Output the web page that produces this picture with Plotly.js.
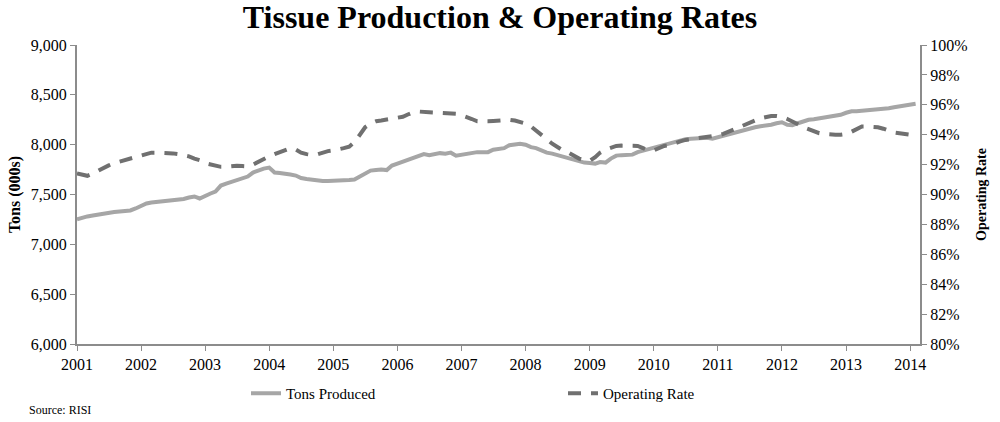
<!DOCTYPE html>
<html>
<head>
<meta charset="utf-8">
<script src="https://cdn.plot.ly/plotly-3.0.1.min.js"></script>
<style>html,body{margin:0;padding:0;background:#fff;}#chart{width:1000px;height:422px;}</style>
</head>
<body>
<div id="chart"></div>
<script>
// Monthly, Jan 2001 - Feb 2014
var years = [2001,2002,2003,2004,2005,2006,2007,2008,2009,2010,2011,2012,2013,2014];

var tonsProduced = [
  7250,7270,7280,7290,7300,7310,7320,7325,7330,7335,7340,7360,
  7390,7410,7420,7425,7430,7435,7440,7445,7455,7470,7480,7460,
  7490,7510,7530,7590,7610,7625,7640,7660,7680,7720,7745,7760,
  7770,7720,7715,7710,7700,7690,7665,7655,7645,7635,7635,7635,
  7635,7638,7640,7645,7650,7680,7720,7740,7745,7750,7745,7790,
  7810,7830,7850,7870,7890,7905,7895,7905,7915,7910,7920,7890,
  7900,7915,7920,7925,7925,7925,7950,7955,7965,7995,8005,8010,
  8000,7975,7965,7940,7920,7910,7895,7885,7870,7850,7830,7820,
  7815,7810,7825,7820,7860,7890,7895,7895,7900,7925,7940,7955,
  7965,7980,7995,8010,8025,8040,8055,8060,8065,8075,8070,8060,
  8075,8095,8110,8120,8130,8145,8160,8175,8185,8190,8200,8215,
  8225,8200,8195,8215,8235,8250,8255,8265,8275,8285,8290,8300,
  8320,8335,8335,8340,8345,8350,8350,8360,8365,8375,8385,8395,
  8405,8410
];

var operatingRate = [
  91.4,91.3,91.25,91.4,91.6,91.8,91.95,92.1,92.2,92.25,92.4,92.5,
  92.55,92.7,92.8,92.8,92.8,92.78,92.75,92.7,92.65,92.55,92.4,92.3,
  92.1,92.0,91.9,91.85,91.85,91.9,91.92,91.9,91.88,92.0,92.2,92.4,
  92.55,92.7,92.85,93.0,93.1,93.0,92.8,92.7,92.65,92.68,92.8,92.9,
  92.95,93.0,93.1,93.2,93.5,94.0,94.5,94.75,94.9,94.95,95.0,95.05,
  95.1,95.2,95.35,95.5,95.55,95.55,95.5,95.48,95.47,95.47,95.45,95.4,
  95.3,95.2,95.05,94.9,94.88,94.9,94.92,94.95,95.0,95.0,94.95,94.85,
  94.75,94.55,94.3,94.0,93.7,93.4,93.15,92.95,92.8,92.6,92.4,92.3,
  92.25,92.5,92.8,93.0,93.15,93.25,93.27,93.27,93.27,93.25,93.1,92.95,
  92.95,93.1,93.25,93.3,93.45,93.55,93.65,93.7,93.75,93.78,93.8,93.85,
  93.95,94.05,94.2,94.35,94.5,94.65,94.8,94.95,95.1,95.2,95.25,95.25,
  95.2,95.05,94.9,94.7,94.5,94.35,94.2,94.1,94.05,94.0,94.0,94.0,
  94.05,94.2,94.4,94.55,94.55,94.52,94.5,94.4,94.25,94.15,94.1,94.05,
  94.0,93.95
];

var leftTickVals = [6000,6500,7000,7500,8000,8500,9000];
var leftTickLabels = ['6,000','6,500','7,000','7,500','8,000','8,500','9,000'];
var rightTickVals = [80,82,84,86,88,90,92,94,96,98,100];
var rightTickLabels = ['80%','82%','84%','86%','88%','90%','92%','94%','96%','98%','100%'];

// month dates built from the years list
var dates = [];
for (var i = 0; i < tonsProduced.length; i++) {
  var y = years[0] + Math.floor(i / 12);
  var m = (i % 12) + 1;
  dates.push(y + '-' + (m < 10 ? '0' + m : m) + '-01');
}
var yearTicks = years.map(function (y) { return y + '-01-01'; });
var yearLabels = years.map(String);

var font = 'Liberation Serif, Times New Roman, serif';
var axisColor = '#8c8c8c';

var traces = [
  {
    x: dates, y: tonsProduced, name: 'Tons Produced', type: 'scatter', mode: 'lines',
    line: {color: '#a6a6a6', width: 4, shape: 'linear'}, yaxis: 'y', legend: 'legend'
  },
  {
    x: dates, y: operatingRate, name: 'Operating Rate', type: 'scatter', mode: 'lines',
    line: {color: '#707070', width: 4, dash: '13px,10px'}, yaxis: 'y2', legend: 'legend2'
  }
];

var layout = {
  width: 1000, height: 422,
  margin: {l: 77, r: 80, t: 45, b: 75},
  paper_bgcolor: '#fff', plot_bgcolor: '#fff',
  font: {family: font, size: 16, color: '#000'},
  title: {
    text: '<b>Tissue Production &amp; Operating Rates</b>',
    font: {family: font, size: 32, color: '#000'},
    x: 0.5, xanchor: 'center', y: 1 - 17 / 422, yanchor: 'middle', xref: 'container', yref: 'container'
  },
  xaxis: {
    type: 'date',
    range: ['2001-01-01', '2014-02-26'],
    tickmode: 'array', tickvals: yearTicks, ticktext: yearLabels,
    showgrid: false, zeroline: false,
    showline: true, linecolor: axisColor, linewidth: 2,
    ticks: 'outside', ticklen: 5, tickcolor: axisColor, tickwidth: 1,
    tickfont: {family: font, size: 16, color: '#000'}
  },
  yaxis: {
    range: [6000, 9000],
    tickmode: 'array', tickvals: leftTickVals, ticktext: leftTickLabels,
    showgrid: false, zeroline: false,
    showline: true, linecolor: axisColor, linewidth: 2,
    ticks: 'outside', ticklen: 5, tickcolor: axisColor, tickwidth: 1,
    tickfont: {family: font, size: 16, color: '#000'},
    title: {text: '<b>Tons (000s)</b>', font: {family: font, size: 16, color: '#000'}, standoff: 6}
  },
  yaxis2: {
    range: [80, 100], overlaying: 'y', side: 'right',
    tickmode: 'array', tickvals: rightTickVals, ticktext: rightTickLabels,
    showgrid: false, zeroline: false,
    showline: true, linecolor: axisColor, linewidth: 2,
    ticks: 'outside', ticklen: 5, tickcolor: axisColor, tickwidth: 1,
    tickfont: {family: font, size: 16, color: '#000'},
    title: {text: '<b>Operating Rate</b>', font: {family: font, size: 14, color: '#000'}, standoff: 10}
  },
  legend: {
    orientation: 'h', x: (246 - 77) / 843, xanchor: 'left', y: (347 - 397) / 302, yanchor: 'middle',
    font: {family: font, size: 15, color: '#000'}, bgcolor: 'rgba(0,0,0,0)', borderwidth: 0
  },
  legend2: {
    orientation: 'h', x: (563 - 77) / 843, xanchor: 'left', y: (347 - 397) / 302, yanchor: 'middle',
    font: {family: font, size: 15, color: '#000'}, bgcolor: 'rgba(0,0,0,0)', borderwidth: 0
  },
  annotations: [
    {
      text: 'Source: RISI', xref: 'paper', yref: 'paper',
      x: (27 - 77) / 843, y: (347 - 414) / 302, xanchor: 'left', yanchor: 'middle',
      showarrow: false, font: {family: font, size: 12, color: '#000'}
    }
  ],
  showlegend: true
};

Plotly.newPlot('chart', traces, layout, {displayModeBar: false, staticPlot: true});
</script>
</body>
</html>
